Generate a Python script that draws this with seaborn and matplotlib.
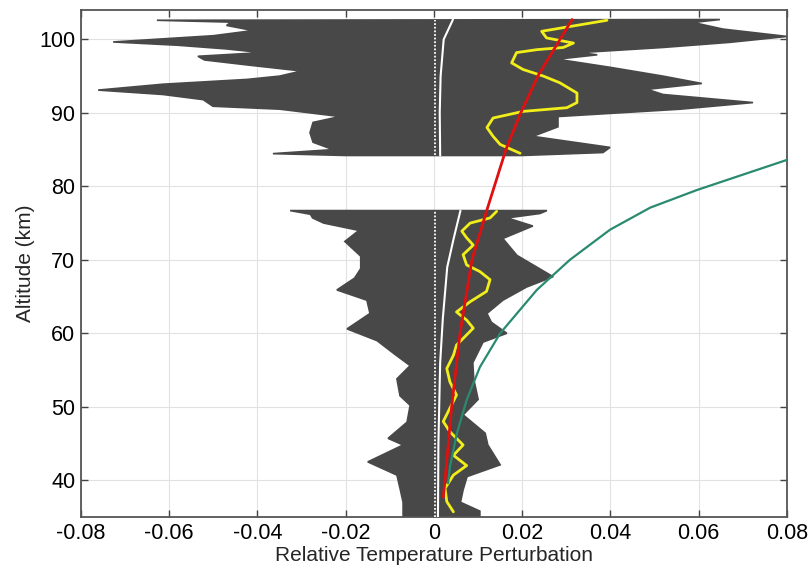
import matplotlib
matplotlib.use("Agg")
import matplotlib.pyplot as plt
import seaborn as sns

# gray envelope of the individual perturbation profiles
upper_left_alt = [102.6, 102.35, 101.9, 101.2, 100.5, 99.65, 99.2, 98.7, 98.2, 97.7, 97.2, 96.5,
                  95.7, 95.0, 94.55, 93.9, 93.1, 92.5, 91.8, 90.9, 90.5, 89.5, 88.7, 87.3,
                  86.0, 85.0, 84.45, 84.2]
upper_left_x = [-0.0628, -0.046, -0.047, -0.041, -0.050, -0.0727, -0.058, -0.047, -0.039, -0.0535,
                -0.052, -0.042, -0.030, -0.035, -0.0424, -0.0614, -0.0761, -0.0614, -0.0523,
                -0.0501, -0.0349, -0.0213, -0.0274, -0.0281, -0.0274, -0.0229, -0.0365, -0.020]
upper_right_alt = [102.7, 102.3, 101.4, 100.4, 99.6, 98.9, 98.2, 97.9, 97.3, 96.2, 95.0, 94.0,
                   93.2, 92.5, 91.4, 90.5, 89.5, 88.1, 86.8, 85.3, 84.6, 84.2]
upper_right_x = [0.0648, 0.0587, 0.0655, 0.0800, 0.0671, 0.0519, 0.033, 0.037, 0.0279, 0.0399,
                 0.0519, 0.0607, 0.0483, 0.0519, 0.0723, 0.0558, 0.0281, 0.0281, 0.0224,
                 0.0399, 0.0383, 0.020]

lower_left_alt = [76.7, 76.2, 75.7, 75.0, 74.0, 72.5, 70.5, 68.8, 67.5, 65.9, 64.5, 62.7, 60.6,
                  59.0, 57.2, 55.6, 53.8, 51.5, 50.2, 47.9, 45.7, 44.8, 42.5, 40.7, 38.9, 37.0, 35.0]
lower_left_x = [-0.0326, -0.028, -0.0275, -0.025, -0.017, -0.0202, -0.0166, -0.0166, -0.018,
                -0.0220, -0.0152, -0.0145, -0.0197, -0.0129, -0.009, -0.0054, -0.0084, -0.0077,
                -0.0054, -0.0061, -0.0104, -0.0070, -0.0150, -0.0084, -0.0077, -0.0070, -0.0070]
lower_right_alt = [76.7, 76.3, 75.7, 74.6, 72.9, 70.6, 67.7, 66.3, 64.5, 62.7, 61.5, 60.0, 58.8,
                   56.0, 53.8, 51.0, 48.9, 46.4, 44.8, 42.1, 40.5, 38.7, 37.0, 35.8, 35.0]
lower_right_x = [0.0256, 0.0240, 0.0166, 0.0224, 0.0156, 0.0188, 0.027, 0.0210, 0.0156, 0.0120,
                 0.013, 0.0165, 0.0111, 0.0088, 0.0090, 0.0100, 0.0066, 0.0116, 0.0122, 0.0150,
                 0.0075, 0.0066, 0.0060, 0.0104, 0.0104]

# mean profiles (white)
white_up_alt = [84.2, 90.0, 95.0, 100.0, 102.7]
white_up_x = [0.0014, 0.0013, 0.0015, 0.0022, 0.0043]
white_lo_alt = [35.0, 45.0, 56.0, 62.0, 69.0, 73.0, 76.7]
white_lo_x = [0.0009, 0.0010, 0.0014, 0.0020, 0.0030, 0.0045, 0.0060]

# yellow profile
yellow_up_alt = [84.5, 85.7, 86.8, 88.0, 89.3, 90.2, 90.7, 91.4, 92.7, 94.1, 95.0, 95.9, 96.8,
                 98.2, 98.6, 98.9, 99.5, 100.2, 101.1, 102.6]
yellow_up_x = [0.0195, 0.0150, 0.0134, 0.0120, 0.0134, 0.0202, 0.0301, 0.0324, 0.0324, 0.0285,
               0.0248, 0.0202, 0.0176, 0.0187, 0.0233, 0.0293, 0.0316, 0.0255, 0.0244, 0.0392]
yellow_lo_alt = [35.7, 37.1, 38.9, 40.7, 42.0, 43.4, 44.8, 46.6, 48.0, 51.6, 53.4, 55.2, 57.0,
                 58.4, 59.3, 60.7, 61.8, 62.9, 64.3, 65.7, 67.3, 68.4, 69.3, 70.7, 72.0, 73.0,
                 73.9, 75.0, 75.7, 76.6]
yellow_lo_x = [0.0044, 0.0029, 0.0025, 0.0044, 0.0074, 0.0044, 0.0066, 0.0036, 0.0021, 0.0051,
               0.0036, 0.0029, 0.0044, 0.0051, 0.0066, 0.0089, 0.0074, 0.0051, 0.0082, 0.0119,
               0.0127, 0.0104, 0.0074, 0.0066, 0.0089, 0.0074, 0.0063, 0.0082, 0.0127, 0.0142]

# red and teal reference curves
red_alt = [37.7, 40, 50, 60, 70, 76.8, 85, 89.8, 95.2, 102.7]
red_x = [0.0021, 0.0025, 0.0040, 0.0059, 0.0086, 0.0120, 0.0163, 0.0195, 0.0237, 0.0313]
teal_alt = [39.6, 41.8, 46.4, 50.9, 55.4, 60.0, 65.9, 70.0, 74.1, 77.1, 79.5, 83.6]
teal_x = [0.0032, 0.0036, 0.0052, 0.0074, 0.0104, 0.0150, 0.0233, 0.0308, 0.0399, 0.0490,
          0.0596, 0.0800]

x_ticks = [-0.08, -0.06, -0.04, -0.02, 0, 0.02, 0.04, 0.06, 0.08]
x_ticklabels = ["-0.08", "-0.06", "-0.04", "-0.02", "0", "0.02", "0.04", "0.06", "0.08"]
y_ticks = [40, 50, 60, 70, 80, 90, 100]

sns.set_theme(style="whitegrid")
plt.rcParams["font.family"] = ["Liberation Sans", "DejaVu Sans"]
plt.rcParams["axes.unicode_minus"] = False

fig = plt.figure(figsize=(8.09, 5.71), dpi=100)
ax = fig.add_axes([0.1001, 0.0946, 0.8727, 0.8879])
ax.set_facecolor("white")

gray = "#484848"
for l_alt, l_x, r_alt, r_x in [
    (upper_left_alt, upper_left_x, upper_right_alt, upper_right_x),
    (lower_left_alt, lower_left_x, lower_right_alt, lower_right_x),
]:
    # right edge top -> bottom, then left edge bottom -> top
    px = list(r_x) + list(l_x)[::-1]
    py = list(r_alt) + list(l_alt)[::-1]
    ax.fill(px, py, color=gray, edgecolor=gray, linewidth=1.2, zorder=2)

# dotted zero line
for lo, hi in [(35, 76.7), (84.2, 102.7)]:
    ax.plot([0.0002, 0.0002], [lo, hi], color="white", linestyle=(0, (1, 1)), linewidth=1.3, zorder=3)

kw = dict(sort=False, estimator=None, ax=ax, legend=False)
sns.lineplot(x=white_up_x, y=white_up_alt, color="white", linewidth=1.5, zorder=4, **kw)
sns.lineplot(x=white_lo_x, y=white_lo_alt, color="white", linewidth=1.5, zorder=4, **kw)
sns.lineplot(x=yellow_up_x, y=yellow_up_alt, color="#f2ee1a", linewidth=2.0, zorder=5, **kw)
sns.lineplot(x=yellow_lo_x, y=yellow_lo_alt, color="#f2ee1a", linewidth=2.0, zorder=5, **kw)
sns.lineplot(x=red_x, y=red_alt, color="#e01010", linewidth=2.0, zorder=6, **kw)
sns.lineplot(x=teal_x, y=teal_alt, color="#2a8a70", linewidth=1.6, zorder=6, **kw)

ax.set_xlim(-0.08, 0.08)
ax.set_ylim(35, 104)
ax.set_xticks(x_ticks)
ax.set_xticklabels(x_ticklabels)
ax.set_yticks(y_ticks)
ax.grid(True, color="#e2e2e2", linewidth=0.8)
ax.set_axisbelow(True)
ax.tick_params(direction="in", length=5, width=1, colors="#444444", labelcolor="black",
               labelsize=15.5, pad=4, top=True, right=True, bottom=True, left=True)
for s in ax.spines.values():
    s.set_visible(True)
    s.set_color("#555555")
    s.set_linewidth(1.3)
ax.set_xlabel("Relative Temperature Perturbation", fontsize=15, labelpad=2)
ax.set_ylabel("Altitude (km)", fontsize=15, labelpad=3)

fig.savefig("out.png", dpi=100)
